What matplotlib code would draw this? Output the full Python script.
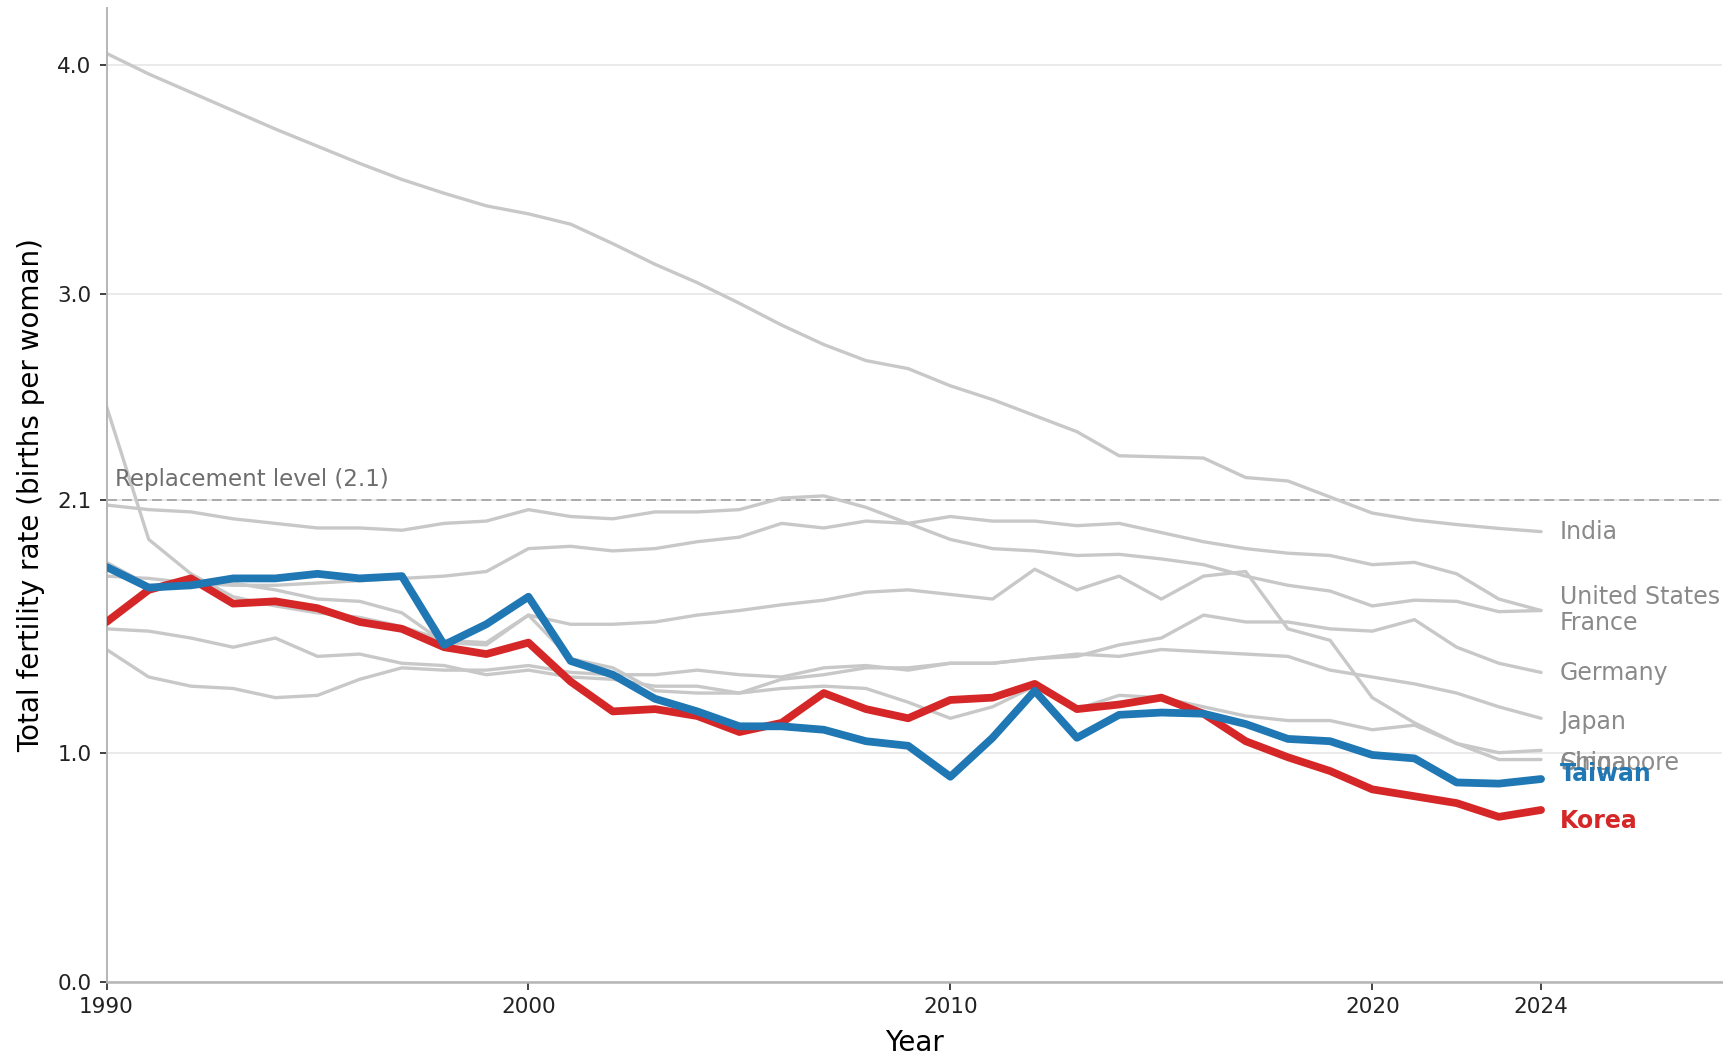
import matplotlib
matplotlib.use("Agg")
import matplotlib.pyplot as plt

# ---------------------------------------------------------------------------
# Data: total fertility rate (births per woman), 1990-2024
# ---------------------------------------------------------------------------
years = list(range(1990, 2025))

korea = [1.57, 1.71, 1.76, 1.65, 1.66, 1.63, 1.57, 1.54, 1.46, 1.43,
         1.48, 1.31, 1.18, 1.19, 1.16, 1.09, 1.13, 1.26, 1.19, 1.15,
         1.23, 1.24, 1.30, 1.19, 1.21, 1.24, 1.17, 1.05, 0.98, 0.92,
         0.84, 0.81, 0.78, 0.72, 0.75]
taiwan = [1.81, 1.72, 1.73, 1.76, 1.76, 1.78, 1.76, 1.77, 1.47, 1.56,
          1.68, 1.40, 1.34, 1.235, 1.18, 1.115, 1.115, 1.10, 1.05, 1.03,
          0.895, 1.065, 1.27, 1.065, 1.165, 1.175, 1.17, 1.125, 1.06, 1.05,
          0.99, 0.975, 0.87, 0.865, 0.885]
india = [4.05, 3.96, 3.88, 3.80, 3.72, 3.645, 3.57, 3.50, 3.44, 3.385,
         3.35, 3.305, 3.22, 3.13, 3.05, 2.96, 2.865, 2.78, 2.71, 2.675,
         2.60, 2.54, 2.47, 2.40, 2.295, 2.29, 2.285, 2.20, 2.185, 2.115,
         2.045, 2.015, 1.995, 1.978, 1.964]
united_states = [2.08, 2.06, 2.05, 2.02, 2.00, 1.98, 1.98, 1.97, 2.00, 2.01,
                 2.06, 2.03, 2.02, 2.05, 2.05, 2.06, 2.11, 2.12, 2.07, 2.00,
                 1.93, 1.89, 1.88, 1.86, 1.865, 1.845, 1.82, 1.77, 1.73, 1.705,
                 1.64, 1.665, 1.66, 1.615, 1.62]
france = [1.77, 1.76, 1.74, 1.73, 1.73, 1.74, 1.75, 1.76, 1.77, 1.79,
          1.89, 1.90, 1.88, 1.89, 1.92, 1.94, 2.00, 1.98, 2.01, 2.00,
          2.03, 2.01, 2.01, 1.99, 2.00, 1.96, 1.92, 1.89, 1.87, 1.86,
          1.82, 1.83, 1.78, 1.67, 1.62]
germany = [1.45, 1.33, 1.29, 1.28, 1.24, 1.25, 1.32, 1.37, 1.36, 1.36,
           1.38, 1.35, 1.34, 1.34, 1.36, 1.34, 1.33, 1.37, 1.38, 1.36,
           1.39, 1.39, 1.41, 1.42, 1.47, 1.50, 1.60, 1.57, 1.57, 1.54,
           1.53, 1.58, 1.46, 1.39, 1.35]
japan = [1.54, 1.53, 1.50, 1.46, 1.50, 1.42, 1.43, 1.39, 1.38, 1.34,
         1.36, 1.33, 1.32, 1.29, 1.29, 1.26, 1.32, 1.34, 1.37, 1.37,
         1.39, 1.39, 1.41, 1.43, 1.42, 1.45, 1.44, 1.43, 1.42, 1.36,
         1.33, 1.30, 1.26, 1.20, 1.15]
china = [2.51, 1.93, 1.78, 1.68, 1.64, 1.61, 1.59, 1.55, 1.49, 1.48,
         1.60, 1.56, 1.56, 1.57, 1.60, 1.62, 1.645, 1.665, 1.70, 1.71,
         1.69, 1.67, 1.80, 1.71, 1.77, 1.67, 1.77, 1.79, 1.54, 1.49,
         1.24, 1.13, 1.04, 1.00, 1.01]
singapore = [1.83, 1.73, 1.72, 1.74, 1.71, 1.67, 1.66, 1.61, 1.48, 1.47,
             1.60, 1.41, 1.37, 1.27, 1.26, 1.26, 1.28, 1.29, 1.28, 1.22,
             1.15, 1.20, 1.29, 1.19, 1.25, 1.24, 1.20, 1.16, 1.14, 1.14,
             1.10, 1.12, 1.04, 0.97, 0.97]

context_names = ["India", "United States", "France", "Germany", "Japan",
                 "China", "Singapore"]
context_series = [india, united_states, france, germany, japan, china,
                  singapore]
# label heights at the right end (spread by hand where lines end together)
context_label_y = [1.964, 1.68, 1.564, 1.346, 1.135, 0.955, 0.955]

focus_names = ["Korea", "Taiwan"]
focus_series = [korea, taiwan]
focus_colors = ["#d62728", "#1f77b4"]
focus_label_y = [0.70, 0.907]

REPLACEMENT = 2.1
x_ticks = [1990, 2000, 2010, 2020, 2024]
y_ticks = [0.0, 1.0, 2.1, 3.0, 4.0]

GREY_LINE = "#c8c8c8"
GREY_TEXT = "#8a8a8a"

# ---------------------------------------------------------------------------
# Figure
# ---------------------------------------------------------------------------
fig = plt.figure(figsize=(17.24, 10.57), dpi=100)
ax = fig.add_axes([0.0618, 0.0710, 0.9373, 0.9219])

for yv in y_ticks:
    ax.axhline(yv, color="#e6e6e6", linewidth=1.2, zorder=0)

ax.axhline(REPLACEMENT, color="#9a9a9a", linewidth=1.1,
           linestyle=(0, (6.5, 3.3)), zorder=1)
ax.text(1990.2, REPLACEMENT + 0.04, "Replacement level (2.1)",
        fontsize=16.5, color="#6e6e6e", ha="left", va="bottom")

for name, vals, ly in zip(context_names, context_series, context_label_y):
    ax.plot(years, vals, color=GREY_LINE, linewidth=2.4, zorder=2,
            solid_capstyle="round")
    ax.text(years[-1] + 0.45, ly, name, fontsize=17, color=GREY_TEXT,
            ha="left", va="center", zorder=3)

for name, vals, col, ly in zip(focus_names, focus_series, focus_colors,
                               focus_label_y):
    ax.plot(years, vals, color=col, linewidth=5.6, zorder=4,
            solid_capstyle="round")
    ax.text(years[-1] + 0.45, ly, name, fontsize=17, color=col,
            fontweight="bold", ha="left", va="center", zorder=5)

ax.set_xlim(1990, 2028.3)
ax.set_ylim(0, 4.25)
ax.set_xticks(x_ticks)
ax.set_yticks(y_ticks)
ax.set_yticklabels([f"{v:.1f}" for v in y_ticks])

ax.set_xlabel("Year", fontsize=20, labelpad=9)
ax.set_ylabel("Total fertility rate (births per woman)", fontsize=20,
              labelpad=9)

for side in ("top", "right"):
    ax.spines[side].set_visible(False)
ax.spines["left"].set_color("#b5b5b5")
ax.spines["bottom"].set_color("#b5b5b5")
ax.spines["left"].set_linewidth(1.4)
ax.spines["bottom"].set_linewidth(1.8)
ax.tick_params(axis="both", labelsize=15.5, length=5.4, width=1.2,
               pad=5.4, colors="#222222")

fig.savefig("out.png", dpi=100)
